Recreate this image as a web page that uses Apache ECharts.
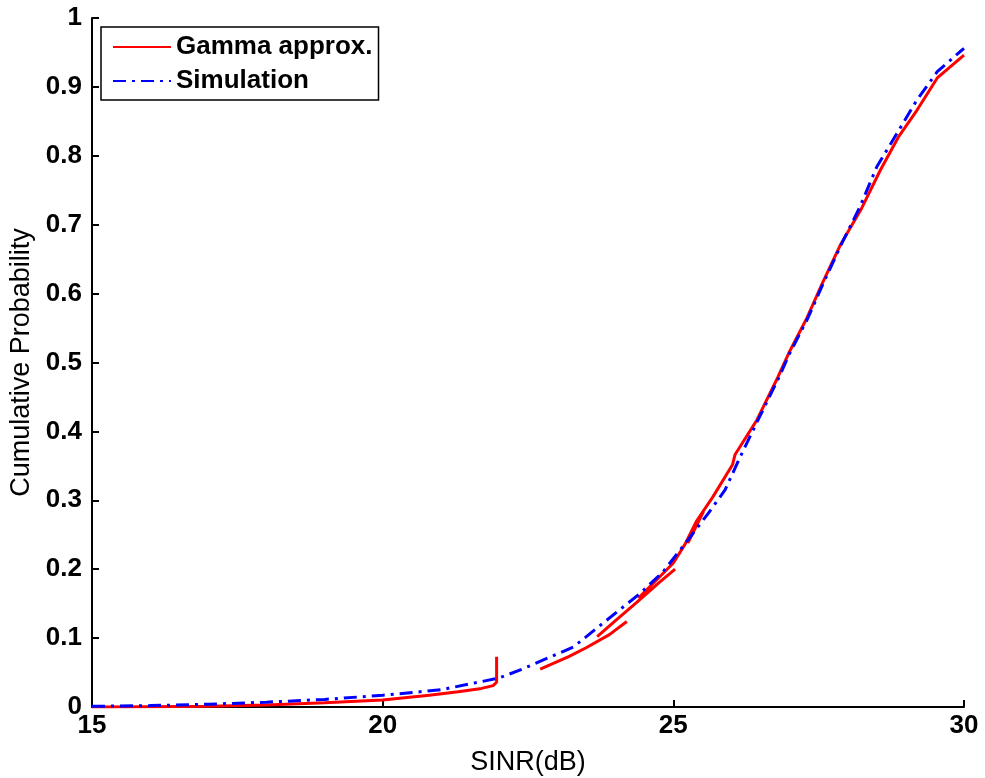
<!DOCTYPE html>
<html>
<head>
<meta charset="utf-8">
<script src="https://cdn.jsdelivr.net/npm/echarts@6/dist/echarts.min.js"></script>
<style>
  html, body { margin: 0; padding: 0; background: #fff; }
  #chart { width: 985px; height: 778px; }
</style>
</head>
<body>
<div id="chart"></div>
<script>
// Simulation CDF (dash-dot blue)
var simSinr = [15, 16, 17, 18, 19, 20, 21, 22, 22.4, 23.28, 24.03, 24.43, 24.82, 25.23, 25.6, 25.89, 26.15, 26.46, 26.82, 27.0, 27.3, 27.58, 27.87, 28.21, 28.5, 28.85, 29.19, 29.54, 29.93, 30];
var simProb = [0.001, 0.002, 0.004, 0.007, 0.011, 0.017, 0.025, 0.042, 0.055, 0.087, 0.138, 0.165, 0.196, 0.24, 0.281, 0.315, 0.363, 0.417, 0.479, 0.513, 0.562, 0.615, 0.668, 0.726, 0.784, 0.833, 0.881, 0.922, 0.951, 0.956];

// Gamma approximation, drawn in pieces
var gammaSeg1X = [15, 16, 17, 18, 19, 20, 20.8, 21.3, 21.7, 21.9, 21.96, 21.96];
var gammaSeg1Y = [0, 0.0005, 0.001, 0.003, 0.006, 0.010, 0.017, 0.022, 0.027, 0.031, 0.036, 0.073];
var gammaSeg2X = [22.71, 23.2, 23.5, 23.9, 24.2];
var gammaSeg2Y = [0.055, 0.073, 0.086, 0.105, 0.124];
var gammaSeg3X = [23.69, 24.0, 24.37, 24.75, 25.03];
var gammaSeg3Y = [0.102, 0.125, 0.152, 0.18, 0.2];
var gammaSeg4X = [25.25, 25.52];
var gammaSeg4Y = [0.238, 0.284];
var gammaMainX = [24.4, 24.8, 25.0, 25.2, 25.4, 25.68, 26.02, 26.06, 26.44, 26.8, 27.0, 27.3, 27.58, 27.87, 28.24, 28.56, 28.87, 29.19, 29.54, 30];
var gammaMainY = [0.158, 0.192, 0.209, 0.236, 0.27, 0.305, 0.352, 0.366, 0.417, 0.479, 0.516, 0.565, 0.618, 0.67, 0.724, 0.779, 0.827, 0.866, 0.913, 0.946];

function pairs(xs, ys) {
  var out = [];
  for (var i = 0; i < xs.length; i++) out.push([xs[i], ys[i]]);
  return out;
}

var gammaData = [];
[[gammaSeg1X, gammaSeg1Y], [gammaSeg2X, gammaSeg2Y], [gammaSeg3X, gammaSeg3Y], [gammaSeg4X, gammaSeg4Y], [gammaMainX, gammaMainY]].forEach(function (s, k) {
  if (k > 0) gammaData.push([s[0][0], '-']);
  gammaData = gammaData.concat(pairs(s[0], s[1]));
});

var myChart = echarts.init(document.getElementById('chart'));
var axisFont = { fontFamily: 'Liberation Sans, Arial, sans-serif', fontWeight: 'bold', fontSize: 26, color: '#000' };

var option = {
  animation: false,
  backgroundColor: '#fff',
  grid: { left: 92, right: 21, top: 18, bottom: 71, containLabel: false, outerBoundsMode: 'none' },
  legend: {
    orient: 'vertical',
    left: 101,
    top: 27,
    padding: [6, 6, 5, 11],
    itemWidth: 58,
    itemHeight: 14,
    itemGap: 6,
    backgroundColor: '#fff',
    borderColor: '#000',
    borderWidth: 1.5,
    borderRadius: 0,
    itemStyle: { opacity: 0 },
    textStyle: { fontFamily: 'Liberation Sans, Arial, sans-serif', fontWeight: 'bold', fontSize: 26, color: '#000', lineHeight: 28 },
    data: ['Gamma approx.', 'Simulation']
  },
  xAxis: {
    type: 'value',
    min: 15,
    max: 30,
    interval: 5,
    name: 'SINR(dB)',
    nameLocation: 'middle',
    nameGap: 42,
    nameTextStyle: { fontFamily: 'Liberation Sans, Arial', fontSize: 27, color: '#000' },
    axisLine: { lineStyle: { color: '#000', width: 2 } },
    axisTick: { inside: true, length: 7, lineStyle: { color: '#000', width: 2 } },
    axisLabel: Object.assign({ margin: 6 }, axisFont),
    splitLine: { show: false }
  },
  yAxis: {
    type: 'value',
    min: 0,
    max: 1,
    interval: 0.1,
    name: 'Cumulative Probability',
    nameLocation: 'middle',
    nameGap: 54,
    nameTextStyle: { fontFamily: 'Liberation Sans, Arial', fontSize: 27, color: '#000' },
    axisLine: { lineStyle: { color: '#000', width: 2 } },
    axisTick: { inside: true, length: 7, lineStyle: { color: '#000', width: 2 } },
    axisLabel: Object.assign({
      margin: 10,
      formatter: function (v) { return (v === 0 || v === 1) ? String(v) : v.toFixed(1); }
    }, axisFont),
    splitLine: { show: false }
  },
  series: [
    {
      name: 'Gamma approx.',
      type: 'line',
      data: gammaData,
      showSymbol: false,
      symbol: 'none',
      connectNulls: false,
      lineStyle: { color: '#ff0000', width: 3 },
      itemStyle: { color: '#ff0000' },
      z: 3
    },
    {
      name: 'Simulation',
      type: 'line',
      data: pairs(simSinr, simProb),
      showSymbol: false,
      symbol: 'none',
      lineStyle: { color: '#0000ff', width: 3, type: [13, 6, 3, 6] },
      itemStyle: { color: '#0000ff' },
      z: 4
    }
  ]
};
myChart.setOption(option);
</script>
</body>
</html>
